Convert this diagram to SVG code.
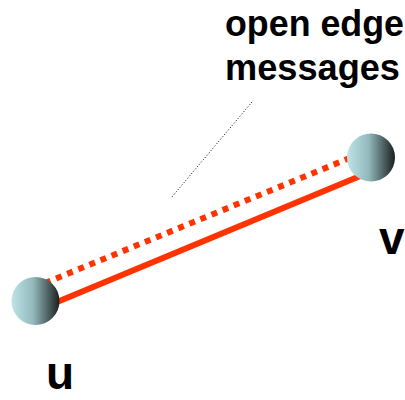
<svg xmlns="http://www.w3.org/2000/svg" width="405" height="400" viewBox="0 0 405 400">
<style>
.lbl{font-family:"Liberation Sans",Arial,sans-serif;font-weight:bold;fill:#000}
.edge{stroke:#ff3300;stroke-width:6;fill:none}
</style>
<defs>
<linearGradient id="ball" x1="0" y1="0" x2="1" y2="0">
<stop offset="0" stop-color="#bfe3e6"/>
<stop offset="0.45" stop-color="#93b9bc"/>
<stop offset="1" stop-color="#1a1f1f"/>
</linearGradient>
</defs>
<g id="connectors">
<line class="edge" x1="45" y1="283" x2="362" y2="153" stroke-dasharray="6,6"/>
<line class="edge" x1="45" y1="307" x2="365" y2="174"/>
<line x1="252" y1="102" x2="171" y2="198" stroke="#000" stroke-width="1" stroke-dasharray="1,2"/>
</g>
<g id="node-u">
<circle cx="35.5" cy="301" r="24" fill="url(#ball)"/>
<text class="lbl" x="46" y="389" font-size="46">u</text>
</g>
<g id="node-v">
<circle cx="371" cy="157.5" r="24" fill="url(#ball)"/>
<text class="lbl" x="379" y="254" font-size="46">v</text>
</g>
<g id="label">
<text class="lbl" x="225" y="36" font-size="36" textLength="179" lengthAdjust="spacingAndGlyphs">open edge</text>
<text class="lbl" x="225" y="80" font-size="36" textLength="175" lengthAdjust="spacingAndGlyphs">messages</text>
</g>
</svg>
